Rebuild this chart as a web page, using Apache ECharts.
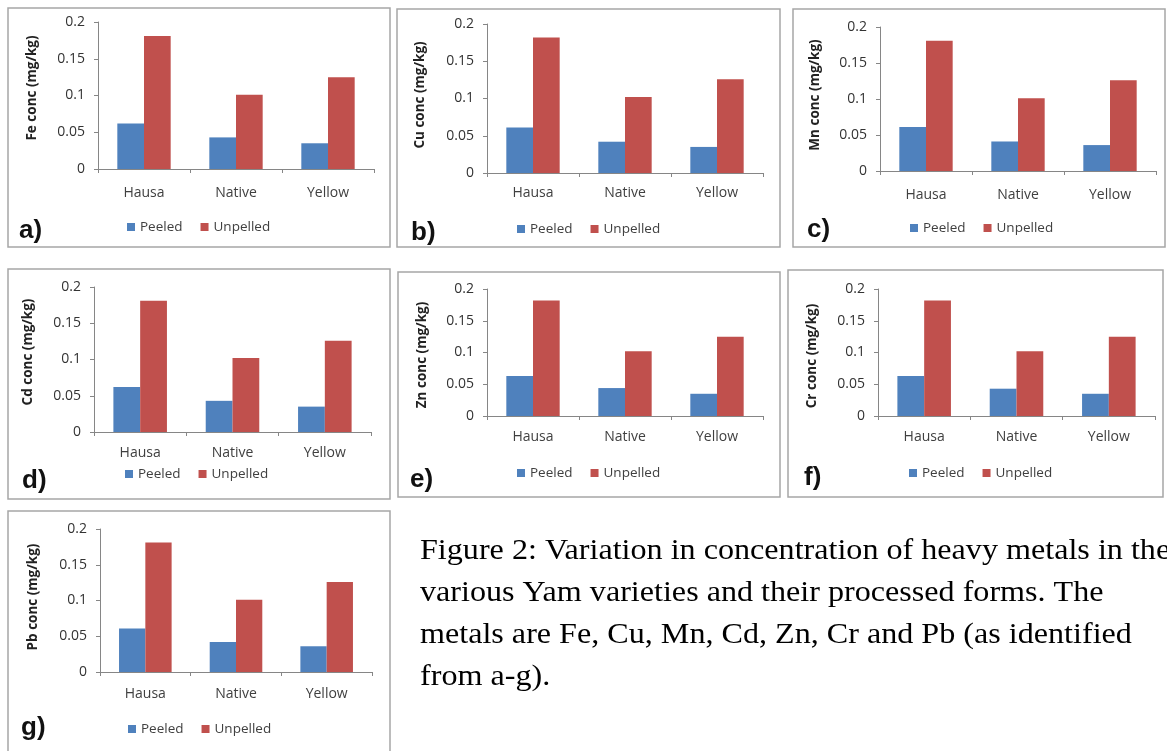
<!DOCTYPE html>
<html>
<head>
<meta charset="utf-8">
<script src="https://cdn.jsdelivr.net/npm/echarts@6/dist/echarts.min.js"></script>
<style>html,body{margin:0;padding:0;background:#fff;}#c{width:1167px;height:751px;}</style>
</head>
<body>
<div id="c"></div>
<script>
// ---- data ----
var categories = ['Hausa', 'Native', 'Yellow'];
var seriesNames = ['Peeled', 'Unpelled'];
var fePeeled = [0.062, 0.043, 0.035], feUnpeeled = [0.181, 0.101, 0.125];
var cuPeeled = [0.061, 0.042, 0.035], cuUnpeeled = [0.182, 0.102, 0.126];
var mnPeeled = [0.061, 0.041, 0.036], mnUnpeeled = [0.181, 0.101, 0.126];
var cdPeeled = [0.062, 0.043, 0.035], cdUnpeeled = [0.181, 0.102, 0.126];
var znPeeled = [0.063, 0.044, 0.035], znUnpeeled = [0.182, 0.102, 0.125];
var crPeeled = [0.063, 0.043, 0.035], crUnpeeled = [0.182, 0.102, 0.125];
var pbPeeled = [0.061, 0.042, 0.036], pbUnpeeled = [0.181, 0.101, 0.126];
var yMin = 0, yMax = 0.2, yInterval = 0.05;
var axisTitles = ['Fe conc (mg/kg)', 'Cu conc (mg/kg)', 'Mn conc (mg/kg)', 'Cd conc (mg/kg)', 'Zn conc (mg/kg)', 'Cr conc (mg/kg)', 'Pb conc (mg/kg)'];
var panelLabels = ['a)', 'b)', 'c)', 'd)', 'e)', 'f)', 'g)'];
var captionLines = [
  'Figure 2: Variation in concentration of heavy metals in the',
  'various Yam varieties and their processed forms. The',
  'metals are Fe, Cu, Mn, Cd, Zn, Cr and Pb (as identified',
  'from a-g).'
];
var panelData = [
  [fePeeled, feUnpeeled], [cuPeeled, cuUnpeeled], [mnPeeled, mnUnpeeled],
  [cdPeeled, cdUnpeeled], [znPeeled, znUnpeeled], [crPeeled, crUnpeeled],
  [pbPeeled, pbUnpeeled]
];

// ---- layout ----
var layout = [
  {box:[8,8,382,239],     grid:[98,22,276,147],  title:[32,88],  lab:17, leg:[127,220], pl:[19,238]},
  {box:[397,9,383,238],   grid:[487,24,276,149], title:[420,95], lab:13, leg:[517,222], pl:[411,240]},
  {box:[793,9,372,238],   grid:[880,27,276,144], title:[815,95], lab:17, leg:[910,221], pl:[807,237]},
  {box:[8,269,382,230],   grid:[94,287,277,145], title:[28,352], lab:14, leg:[125,467], pl:[22,488]},
  {box:[398,272,382,225], grid:[487,289,276,127],title:[422,355],lab:14, leg:[517,466], pl:[410,487]},
  {box:[788,270,375,227], grid:[878,289,277,127],title:[812,356],lab:14, leg:[909,466], pl:[804,485]},
  {box:[8,511,382,250],   grid:[100,529,272,143],title:[33,597], lab:15, leg:[128,722], pl:[21,735]}
];

var FONT = 'Open Sans';
var colors = ['#4f81bd', '#c0504d'];
var grids = [], xAxes = [], yAxes = [], series = [], legends = [], graphics = [];

layout.forEach(function (p, i) {
  graphics.push({type:'rect', shape:{x:p.box[0], y:p.box[1], width:p.box[2], height:p.box[3]},
    style:{fill:'none', stroke:'#a6a6a6', lineWidth:1.5}, z:-1});
  grids.push({left:p.grid[0], top:p.grid[1], width:p.grid[2], height:p.grid[3], containLabel:false});
  xAxes.push({type:'category', gridIndex:i, data:categories,
    axisLine:{lineStyle:{color:'#868686', width:1}},
    axisTick:{show:true, length:4, lineStyle:{color:'#868686'}},
    axisLabel:{color:'#404040', fontFamily:FONT, fontSize:14, margin:p.lab}});
  yAxes.push({type:'value', gridIndex:i, min:yMin, max:yMax, interval:yInterval,
    axisLine:{show:true, lineStyle:{color:'#868686', width:1}},
    axisTick:{show:true, length:4, lineStyle:{color:'#868686'}},
    splitLine:{show:false},
    axisLabel:{color:'#333', fontFamily:FONT, fontSize:14, margin:13}});
  seriesNames.forEach(function (nm, k) {
    series.push({type:'bar', name:nm, xAxisIndex:i, yAxisIndex:i, data:panelData[i][k],
      itemStyle:{color:colors[k]}, barGap:'0%', barCategoryGap:'42%', animation:false});
  });
  legends.push({data:seriesNames, left:p.leg[0], top:p.leg[1], padding:0, icon:'rect', itemWidth:8, itemHeight:8,
    itemGap:18, textStyle:{color:'#404040', fontFamily:FONT, fontSize:13.5}, selectedMode:false});
  graphics.push({type:'text', x:p.title[0], y:p.title[1], rotation:Math.PI/2,
    style:{text:axisTitles[i], fill:'#222', font:'bold 13.5px "' + FONT + '"', align:'center', verticalAlign:'middle'}});
  graphics.push({type:'text', x:p.pl[0], y:p.pl[1] + 6,
    style:{text:panelLabels[i], fill:'#111', font:'bold 26px "Liberation Sans"', align:'left', verticalAlign:'bottom'}});
});

captionLines.forEach(function (t, j) {
  graphics.push({type:'text', x:420, y:537 + j * 42, scaleX:1.127,
    style:{text:t, fill:'#000', font:'28.5px "Liberation Serif"', align:'left', verticalAlign:'top'}});
});

var chart = echarts.init(document.getElementById('c'), null, {renderer:'canvas'});
chart.setOption({
  animation:false,
  backgroundColor:'#fff',
  grid:grids, xAxis:xAxes, yAxis:yAxes, series:series, legend:legends,
  graphic:graphics
});
</script>
</body>
</html>
